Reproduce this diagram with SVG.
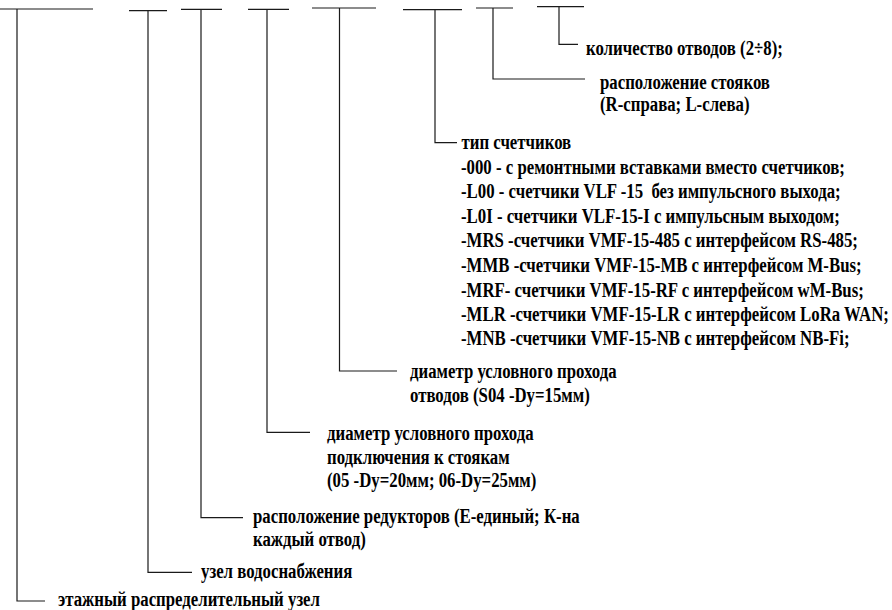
<svg xmlns="http://www.w3.org/2000/svg" width="892" height="610" viewBox="0 0 892 610">
<style>
.c{fill:none;stroke:#1a1a1a;stroke-width:1.2}
text{font-family:"Liberation Serif","Times New Roman",serif;font-weight:bold;font-size:20px;fill:#000}
</style>
<rect width="892" height="610" fill="#fff"/>
<g id="connectors">
<path class="c" d="M0,9 H93 M17,9 V601 H45"/>
<path class="c" d="M129,10.7 H167 M148,10.7 V572.3 H192"/>
<path class="c" d="M181,9.3 H222 M201,9.3 V517.7 H243"/>
<path class="c" d="M248,9.3 H289 M267,9.3 V432.3 H310"/>
<path class="c" d="M312,8 H376 M339.5,8 V371 H397"/>
<path class="c" d="M403,9.7 H462 M435,9.7 V142.7 H457"/>
<path class="c" d="M476,8 H513 M493,8 V79 H585"/>
<path class="c" d="M537,6.7 H584 M559,6.7 V44.3 H578"/>
</g>
<g id="n8"><text transform="translate(586,55) scale(0.84,1)">количество отводов (2÷8);</text></g>
<g id="n7">
<text transform="translate(600,89) scale(0.84,1)">расположение стояков</text>
<text transform="translate(600,111) scale(0.84,1)">(R-справа; L-слева)</text>
</g>
<g id="n6">
<text transform="translate(461.5,149) scale(0.84,1)">тип счетчиков</text>
<text transform="translate(461,173.5) scale(0.84,1)">-000 - с ремонтными вставками вместо счетчиков;</text>
<text transform="translate(461,198) scale(0.84,1)" xml:space="preserve">-L00 - счетчики VLF -15  без импульсного выхода;</text>
<text transform="translate(461,222.5) scale(0.84,1)">-L0I - счетчики VLF-15-I с импульсным выходом;</text>
<text transform="translate(461,246.5) scale(0.84,1)">-MRS -счетчики VMF-15-485 с интерфейсом RS-485;</text>
<text transform="translate(461,271.5) scale(0.84,1)">-MMB -счетчики VMF-15-MB с интерфейсом M-Bus;</text>
<text transform="translate(461,296.5) scale(0.84,1)">-MRF- счетчики VMF-15-RF с интерфейсом wM-Bus;</text>
<text transform="translate(461,320.5) scale(0.84,1)">-MLR -счетчики VMF-15-LR с интерфейсом LoRa WAN;</text>
<text transform="translate(461,344.5) scale(0.84,1)">-MNB -счетчики VMF-15-NB с интерфейсом NB-Fi;</text>
</g>
<g id="n5">
<text transform="translate(410,378) scale(0.84,1)">диаметр условного прохода</text>
<text transform="translate(410,402) scale(0.84,1)">отводов (S04 -Dy=15мм)</text>
</g>
<g id="n4">
<text transform="translate(327,440) scale(0.84,1)">диаметр условного прохода</text>
<text transform="translate(327,463.5) scale(0.84,1)">подключения к стоякам</text>
<text transform="translate(327,487) scale(0.84,1)">(05 -Dy=20мм; 06-Dy=25мм)</text>
</g>
<g id="n3">
<text transform="translate(253,523) scale(0.84,1)">расположение редукторов (Е-единый; К-на</text>
<text transform="translate(253,546) scale(0.84,1)">каждый отвод)</text>
</g>
<g id="n2"><text transform="translate(201,577.5) scale(0.84,1)">узел водоснабжения</text></g>
<g id="n1"><text transform="translate(58,606) scale(0.84,1)">этажный распределительный узел</text></g>
</svg>
